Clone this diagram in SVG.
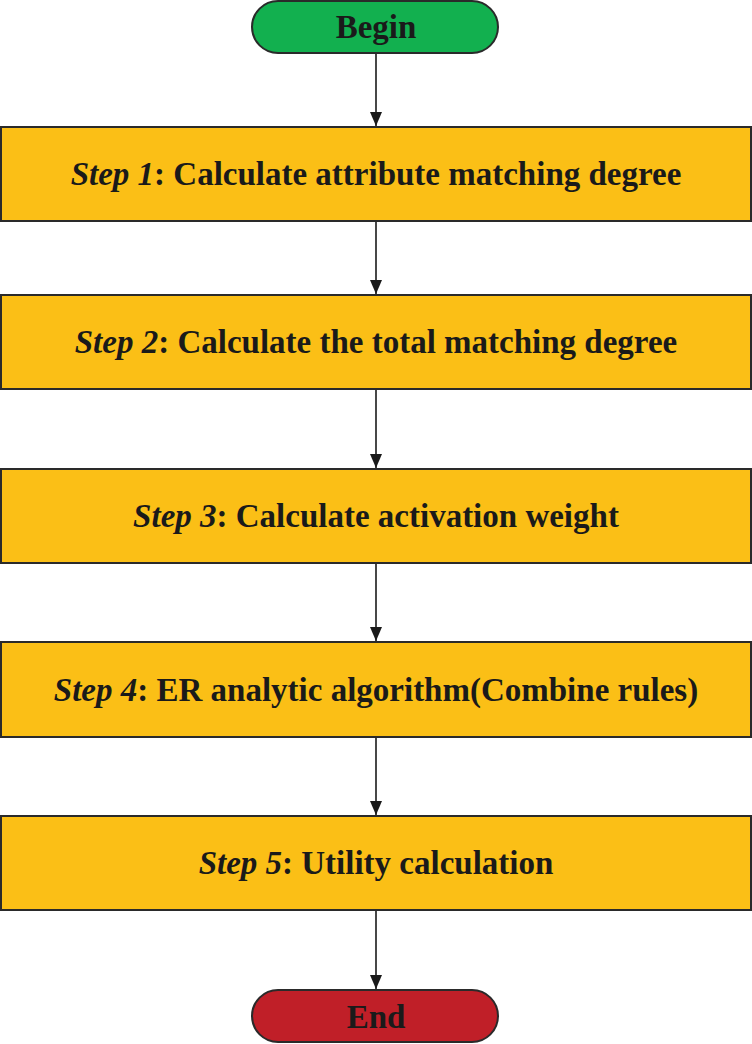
<svg xmlns="http://www.w3.org/2000/svg" width="752" height="1044" viewBox="0 0 752 1044">
<defs>
<style>
.step{fill:#fbbf16;stroke:#2a2a2a;stroke-width:2}
.t{font-family:"Liberation Serif","Times New Roman",serif;font-weight:bold;font-size:33px;fill:#1a1a1a;text-anchor:middle}
.i{font-style:italic}
.c{stroke:#1a1a1a;stroke-width:1.6;fill:none;marker-end:url(#a)}
</style>
<marker id="a" viewBox="0 0 12 14" refX="6" refY="14" markerWidth="12" markerHeight="14" markerUnits="userSpaceOnUse" orient="0">
<path d="M0,0 L12,0 L6,14 z" fill="#1a1a1a"/>
</marker>
</defs>
<rect width="752" height="1044" fill="#fff"/>
<g id="connectors">
<line class="c" x1="376" y1="53" x2="376" y2="126"/>
<line class="c" x1="376" y1="221" x2="376" y2="294"/>
<line class="c" x1="376" y1="389" x2="376" y2="468"/>
<line class="c" x1="376" y1="563" x2="376" y2="641"/>
<line class="c" x1="376" y1="737" x2="376" y2="815"/>
<line class="c" x1="376" y1="910" x2="376" y2="989"/>
</g>
<g id="begin">
<rect x="252" y="1" width="246" height="52" rx="26" fill="#12b04f" stroke="#2a2a2a" stroke-width="2"/>
<text class="t" x="376" y="38">Begin</text>
</g>
<g id="step1">
<rect class="step" x="1" y="127" width="750" height="94"/>
<text class="t" x="376" y="185"><tspan class="i">Step 1</tspan>: Calculate attribute matching degree</text>
</g>
<g id="step2">
<rect class="step" x="1" y="295" width="750" height="94"/>
<text class="t" x="376" y="353"><tspan class="i">Step 2</tspan>: Calculate the total matching degree</text>
</g>
<g id="step3">
<rect class="step" x="1" y="469" width="750" height="94"/>
<text class="t" x="376" y="527"><tspan class="i">Step 3</tspan>: Calculate activation weight</text>
</g>
<g id="step4">
<rect class="step" x="1" y="642" width="750" height="95"/>
<text class="t" x="376" y="701"><tspan class="i">Step 4</tspan>: ER analytic algorithm(Combine rules)</text>
</g>
<g id="step5">
<rect class="step" x="1" y="816" width="750" height="94"/>
<text class="t" x="376" y="874"><tspan class="i">Step 5</tspan>: Utility calculation</text>
</g>
<g id="end">
<rect x="252" y="990" width="246" height="52" rx="26" fill="#c01f28" stroke="#2a2a2a" stroke-width="2"/>
<text class="t" x="376" y="1028">End</text>
</g>
</svg>
